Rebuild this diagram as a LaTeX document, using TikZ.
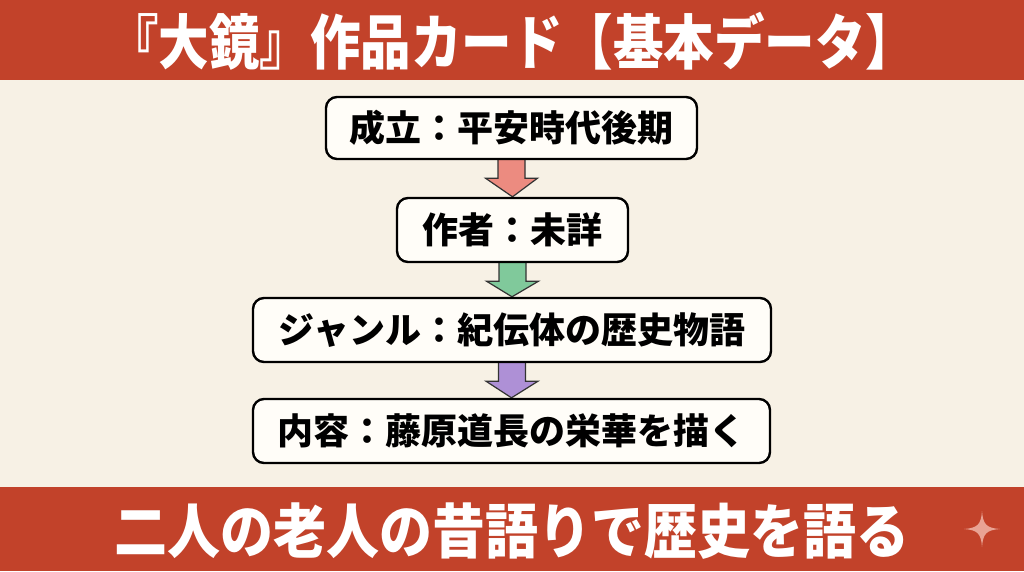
\documentclass[tikz,border=0pt]{standalone}
\usepackage{fontspec}
\setmainfont{Noto Sans CJK JP}
\usetikzlibrary{calc}
\pgfdeclarelayer{back}
\pgfdeclarelayer{arrows}
\pgfsetlayers{back,arrows,main}
\definecolor{bgcream}{HTML}{F7F1E5}
\definecolor{bandred}{HTML}{C2422A}
\definecolor{cardfill}{HTML}{FFFDF8}
\definecolor{arrred}{HTML}{EC8B80}
\definecolor{arrgreen}{HTML}{80C99B}
\definecolor{arrpurple}{HTML}{AE90D6}
\definecolor{sparklepink}{HTML}{E9A394}
\tikzset{
  card/.style={draw=black, line width=2.4pt, fill=cardfill, rounded corners=11pt,
    inner sep=0pt, font=\bfseries\fontsize{36}{40}\selectfont, text=black},
  bandtext/.style={text=white, inner sep=0pt, font=\bfseries},
  flowarrow/.style={draw=black!80, line width=1.2pt, line join=miter},
}
\newcommand{\flowdown}[3]{%
  \begin{pgfonlayer}{arrows}
  \draw[flowarrow, fill=#3]
    ($(#1.south)+(-13.5,-2)$) -- ($(#1.south)+(13.5,-2)$) -- ($(#1.south)+(13.5,18)$)
    -- ($(#1.south)+(26,18)$) -- (#2.north) -- ($(#1.south)+(-26,18)$)
    -- ($(#1.south)+(-13.5,18)$) -- cycle;
  \end{pgfonlayer}}
\begin{document}
\begin{tikzpicture}[x=1pt,y=-1pt]
\useasboundingbox (0,0) rectangle (1024,571);
\begin{pgfonlayer}{back}
\fill[bgcream] (0,0) rectangle (1024,571);
\fill[bandred] (0,0) rectangle (1024,80);
\fill[bandred] (0,487) rectangle (1024,571);
\end{pgfonlayer}
\node[bandtext] (title) at (512,41) {\fontsize{50.5}{58}\selectfont\scalebox{1}[1.18]{『大鏡』作品カード【基本データ】}};
\node[card, minimum width=371pt, minimum height=62pt] (b1) at (511.5,128) {成立：平安時代後期};
\node[card, minimum width=231pt, minimum height=64pt] (b2) at (512.5,230) {作者：未詳};
\node[card, minimum width=518pt, minimum height=64pt] (b3) at (512,330) {ジャンル：紀伝体の歴史物語};
\node[card, minimum width=517pt, minimum height=64pt] (b4) at (511.5,431) {内容：藤原道長の栄華を描く};
\flowdown{b1}{b2}{arrred}
\flowdown{b2}{b3}{arrgreen}
\flowdown{b3}{b4}{arrpurple}
\node[bandtext] (footer) at (512,531) {\fontsize{53}{60}\selectfont\scalebox{1}[1.12]{二人の老人の昔語りで歴史を語る}};
\fill[sparklepink] (982,511) .. controls (983,524) and (986,528) .. (1000,529)
  .. controls (986,530) and (983,534) .. (982,547)
  .. controls (981,534) and (978,530) .. (964,529)
  .. controls (978,528) and (981,524) .. (982,511) -- cycle;
\end{tikzpicture}
\end{document}
